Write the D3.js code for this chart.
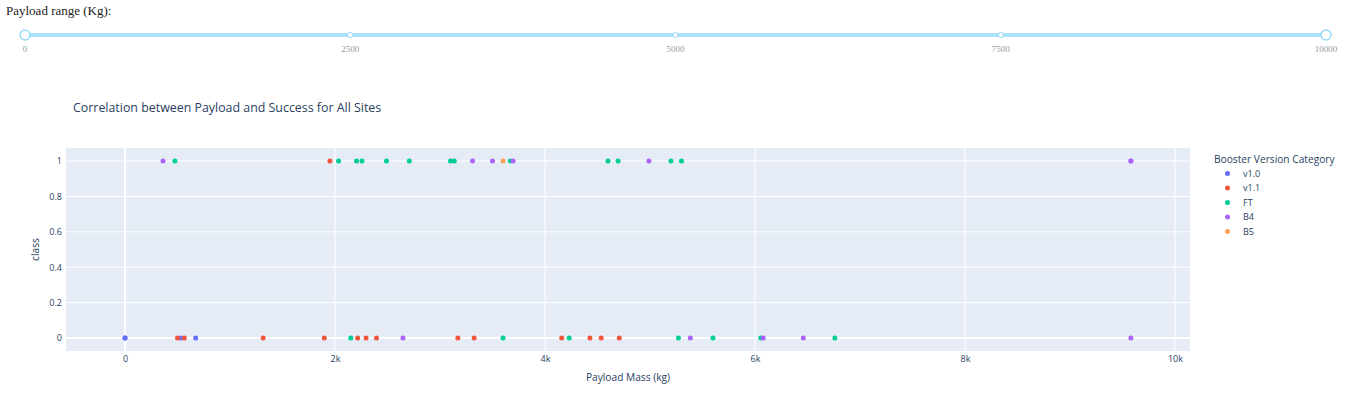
<!DOCTYPE html>
<html>
<head>
<meta charset="utf-8">
<script src="https://cdn.jsdelivr.net/npm/d3@7"></script>
<style>
body{margin:0;background:#fff;}
svg{display:block;}
</style>
</head>
<body>
<svg id="c" width="1348" height="415"></svg>
<script>
// ---- data ----
const categories = ["v1.0","v1.1","FT","B4","B5"];
const colors = ["#636efa","#EF553B","#00cc96","#ab63fa","#FFA15A"];
const v10Payload = [0, 0, 533, 673];
const v10Class   = [0, 0, 0, 0];
const v11Payload = [500, 565, 1316, 1898, 2216, 2296, 2395, 3170, 3325, 4159, 4428, 4535, 4707, 1952];
const v11Class   = [0, 0, 0, 0, 0, 0, 0, 0, 0, 0, 0, 0, 0, 1];
const ftPayload  = [475, 2034, 2205, 2257, 2490, 2708, 3100, 3136, 3669, 4600, 4696, 5200, 5300, 2150, 3600, 4230, 5271, 5600, 6055, 6761];
const ftClass    = [1, 1, 1, 1, 1, 1, 1, 1, 1, 1, 1, 1, 1, 0, 0, 0, 0, 0, 0, 0];
const b4Payload  = [362, 3310, 3500, 3696, 4990, 9580, 9580, 2647, 5384, 6078, 6460, 9580];
const b4Class    = [1, 1, 1, 1, 1, 1, 1, 0, 0, 0, 0, 0];
const b5Payload  = [3600];
const b5Class    = [1];
const xTicks = [0, 2000, 4000, 6000, 8000, 10000];
const yTicks = [0, 0.2, 0.4, 0.6, 0.8, 1];
const sliderMarks = [0, 2500, 5000, 7500, 10000];

const series = [
  {name:"v1.0", x:v10Payload, y:v10Class},
  {name:"v1.1", x:v11Payload, y:v11Class},
  {name:"FT", x:ftPayload, y:ftClass},
  {name:"B4", x:b4Payload, y:b4Class},
  {name:"B5", x:b5Payload, y:b5Class}
];

const svg = d3.select("#c");
const font = "'Open Sans', verdana, arial, sans-serif";
const txt = "#2a3f5f";

// ---- slider ----
svg.append("text").attr("x",6).attr("y",14.5)
  .attr("font-family","'Liberation Serif', 'Times New Roman', serif")
  .attr("font-size",13).attr("fill","#222").text("Payload range (Kg):");
const sx = d3.scaleLinear().domain([0,10000]).range([25,1326]);
svg.append("line").attr("x1",sx(0)).attr("x2",sx(10000)).attr("y1",35).attr("y2",35)
  .attr("stroke","#abe2fb").attr("stroke-width",4);
const mk = svg.append("g");
mk.selectAll("circle.dot").data(sliderMarks.slice(1,-1)).join("circle")
  .attr("cx",d=>sx(d)).attr("cy",35).attr("r",2.6)
  .attr("fill","#fff").attr("stroke","#96dbfa").attr("stroke-width",1);
mk.selectAll("circle.h").data([0,10000]).join("circle")
  .attr("cx",d=>sx(d)).attr("cy",35).attr("r",5)
  .attr("fill","#fff").attr("stroke","#96dbfa").attr("stroke-width",1.5);
mk.selectAll("text").data(sliderMarks).join("text")
  .attr("x",d=>sx(d)).attr("y",52).attr("text-anchor","middle")
  .attr("font-family","'Liberation Serif', serif").attr("font-size",9)
  .attr("fill","#999").text(d=>d);

// ---- chart ----
const L=66, R=1190, T=148, B=351;
const x = d3.scaleLinear().domain([-562, 10143]).range([L,R]);
const y = d3.scaleLinear().domain([-0.0734, 1.0734]).range([B,T]);

svg.append("text").attr("x",73).attr("y",111.5).attr("font-family",font)
  .attr("font-size",12.4).attr("fill",txt)
  .text("Correlation between Payload and Success for All Sites");

svg.append("rect").attr("x",L).attr("y",T).attr("width",R-L).attr("height",B-T).attr("fill","#E5ECF6");

const g = svg.append("g");
g.selectAll("line.gx").data(xTicks).join("line")
  .attr("x1",d=>x(d)).attr("x2",d=>x(d)).attr("y1",T).attr("y2",B)
  .attr("stroke","#fff").attr("stroke-width",d=>d===0?2:1);
g.selectAll("line.gy").data(yTicks).join("line").attr("class","gy")
  .attr("x1",L).attr("x2",R).attr("y1",d=>y(d)).attr("y2",d=>y(d))
  .attr("stroke","#fff").attr("stroke-width",d=>d===0?2:1);

// axes via d3
const xAxis = d3.axisBottom(x).tickValues(xTicks).tickSize(0).tickPadding(5)
  .tickFormat(d=> d===0 ? "0" : (d/1000)+"k");
const xa = svg.append("g").attr("transform",`translate(0,${B})`).call(xAxis);
const yAxis = d3.axisLeft(y).tickValues(yTicks).tickSize(0).tickPadding(4)
  .tickFormat(d=> d===0 ? "0" : d===1 ? "1" : d3.format(".1f")(d));
const ya = svg.append("g").attr("transform",`translate(${L},0)`).call(yAxis);
[xa,ya].forEach(a=>{
  a.select(".domain").remove();
  a.selectAll("text").attr("font-family",font).attr("font-size",9).attr("fill",txt);
});

svg.append("text").attr("x",(L+R)/2).attr("y",381).attr("text-anchor","middle")
  .attr("font-family",font).attr("font-size",10.2).attr("fill",txt).text("Payload Mass (kg)");
svg.append("text").attr("transform",`translate(38.5,${(T+B)/2}) rotate(-90)`)
  .attr("text-anchor","middle").attr("font-family",font).attr("font-size",10.2)
  .attr("fill",txt).text("class");

// points
const pts = svg.append("g");
series.forEach((s,i)=>{
  pts.append("g").selectAll("circle").data(s.x.map((v,j)=>[v,s.y[j]])).join("circle")
    .attr("cx",d=>x(d[0])).attr("cy",d=>y(d[1])).attr("r",2.5)
    .attr("fill",colors[i]);
});

// legend
const lg = svg.append("g");
lg.append("text").attr("x",1214).attr("y",163).attr("font-family",font)
  .attr("font-size",10.2).attr("fill",txt).text("Booster Version Category");
const items = lg.selectAll("g.it").data(categories).join("g")
  .attr("transform",(d,i)=>`translate(0,${173.5+i*14.5})`);
items.append("circle").attr("cx",1227.5).attr("cy",0).attr("r",2.5).attr("fill",(d,i)=>colors[i]);
items.append("text").attr("x",1243).attr("y",3.2).attr("font-family",font)
  .attr("font-size",9).attr("fill",txt).text(d=>d);
</script>
</body>
</html>
